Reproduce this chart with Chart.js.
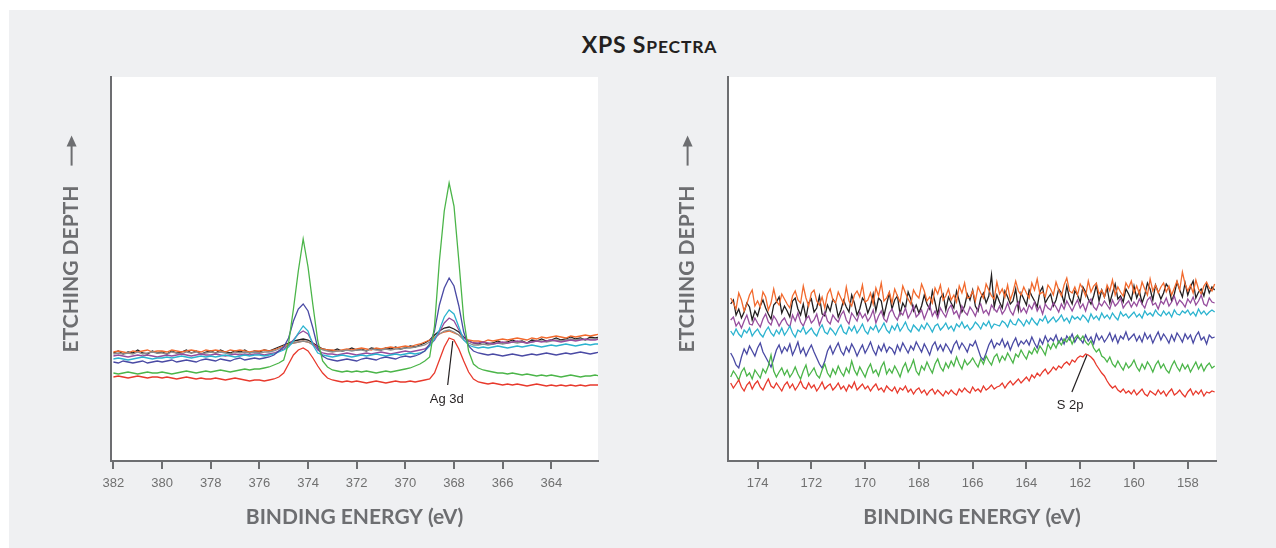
<!DOCTYPE html>
<html>
<head>
<meta charset="utf-8">
<title>XPS Spectra</title>
<script src="https://cdn.jsdelivr.net/npm/chart.js@4.4.0/dist/chart.umd.min.js"></script>
<style>
  body { margin: 0; background: #fff; width: 1276px; height: 548px; overflow: hidden; position: relative; }
  #panel { position: absolute; left: 9px; top: 10px; right: 0; bottom: 0; background: #eff0f2; }
  #title { position: absolute; left: 0; top: 30px; width: 1299px; text-align: center; letter-spacing: 0.8px;
           font-family: Lato, "Open Sans", sans-serif; font-weight: bold; font-size: 23px; color: #231f20; }
  #title .sc { font-size: 17.5px; }
  .box { position: absolute; top: 0; width: 638px; height: 548px; }
</style>
</head>
<body>
<div id="panel"></div>
<div id="title">XPS S<span class="sc">PECTRA</span></div>
<div class="box" style="left:0"><canvas id="agChart" width="638" height="548"></canvas></div>
<div class="box" style="left:638px"><canvas id="sChart" width="638" height="548"></canvas></div>
<script>
// Ag 3d region, binding energy (eV)
var agEnergy = [382,381.8,381.6,381.4,381.2,381,380.8,380.6,380.4,380.2,
  380,379.8,379.6,379.4,379.2,379,378.8,378.6,378.4,378.2,
  378,377.8,377.6,377.4,377.2,377,376.8,376.6,376.4,376.2,
  376,375.8,375.6,375.4,375.2,375,374.8,374.6,374.4,374.2,
  374,373.8,373.6,373.4,373.2,373,372.8,372.6,372.4,372.2,
  372,371.8,371.6,371.4,371.2,371,370.8,370.6,370.4,370.2,
  370,369.8,369.6,369.4,369.2,369,368.8,368.6,368.4,368.2,
  368,367.8,367.6,367.4,367.2,367,366.8,366.6,366.4,366.2,
  366,365.8,365.6,365.4,365.2,365,364.8,364.6,364.4,364.2,
  364,363.8,363.6,363.4,363.2,363,362.8,362.6,362.4,362.2,362];

var agRed = [84,85,84,83,84,85,84,83,84,84, 83,84,83,82,83,84,83,82,83,82, 82,83,82,81,82,83,82,81,80,81,
  81,80,81,82,84, 88,97,106,111,113,110,103,95,88,83,81,
  80,79,80,79,80,79,78,79,80,79,78,79,80,79,79,80,79,80,81,
  82,88,101,114,123,121,112,100,89,82,79,
  78,77,78,77,76,77,76,77,76,75,76,77,76,75,76,75,76,75,76,75,76,75,76,76,76];
var agGreen = [88,87,88,89,88,87,88,89,88,88, 89,88,87,88,89,90,89,88,89,90, 89,90,91,90,89,90,91,92,91,92,
  92,93,94,96,98, 101,118,152,190,222,194,156,120,100,94,91,
  90,89,90,89,90,89,90,89,88,89,90,89,90, 91,92,93,95,97,100,
  104,135,200,250,278,255,200,142,110,97,93,
  91,90,89,88,88,87,88,87,86,87,86,85,86,85,86,85,84,85,86,85,84,85,85,86,85];
var agBlue = [99,98,100,99,98,99,100,98,99,100, 99,100,101,99,100,101,100,99,101,102, 101,100,102,101,100,102,103,101,102,103,
  102,103,104,106,110, 114,123,140,152,157,150,133,113,105,102,
  101,100,101,102,101,100,102,103,102,101,103,104,103,102,104,105,104,105,107,
  110,117,130,156,173,183,175,155,129,115,110,
  108,107,106,107,106,105,106,107,106,105,106,107,106,107,108,107,106,107,108,107,108,109,108,107,108,109];
var agCyan = [102,103,102,101,102,103,104,103,102,103, 103,104,103,104,105,104,103,104,105,104, 105,104,105,106,105,104,105,106,105,106,
  106,105,106,107,109, 111,114,120,128,135,130,116,108,106,105,
  104,105,106,105,104,105,106,105,106,107,106,105,106,107,106,107,108,107,108,
  110,115,122,131,144,151,147,134,121,116,114,
  113,114,113,114,115,114,113,114,115,114,115,116,115,114,115,116,115,116,117,116,115,116,117,116,117,117];
var agPurple = [105,106,105,104,105,106,105,106,105,104, 105,106,105,106,107,106,105,106,107,106, 106,107,106,105,106,107,106,107,106,107,
  107,106,107,108,110, 112,116,121,127,130,127,118,111,108,107,
  107,106,107,108,107,106,107,108,107,108,109,108,107,108,109,110,109,110,111,
  112,116,121,129,138,143,140,131,123,120,118,
  118,119,118,117,118,119,118,119,120,119,118,119,120,119,120,121,120,119,120,121,120,121,122,121,121,122];
var agGray = [107,108,107,108,107,109,107,108,109,108, 108,107,109,108,107,109,108,109,107,108, 109,108,109,108,107,109,108,109,108,109,
  108,109,109,110,112, 114,116,118,119,120,119,116,113,111,110,
  109,110,110,111,110,111,111,110,112,111,111,112,111,112,112,113,113,114,115,
  116,119,123,127,130,131,129,126,121,118,116,
  116,117,116,117,118,117,118,119,118,119,118,119,120,120,119,120,121,120,121,122,121,122,121,122,122,123];
var agOrange = [109,110,109,108,110,109,110,111,109,110, 110,109,111,110,109,110,111,110,109,111, 110,111,110,109,111,110,111,110,109,110,
  110,111,110,111,113, 115,117,118,119,120,119,117,114,112,111,
  111,110,111,112,111,112,113,112,111,113,112,113,114,113,114,115,114,116,117,
  119,121,124,127,129,130,128,126,123,121,120,
  120,119,121,120,121,122,121,122,123,122,121,123,122,124,123,124,125,124,123,125,124,125,126,125,126,127];
var agBlack = [108,110,107,109,108,111,108,107,110,108, 109,107,110,108,109,111,108,110,107,109, 110,108,111,109,108,110,109,111,108,110,
  109,111,110,112,114, 116,118,120,121,122,121,118,115,112,111,
  110,112,110,111,113,111,112,110,113,112,111,113,112,114,112,113,115,114,116,
  118,121,126,130,133,134,132,129,124,120,118,
  117,119,117,118,120,118,119,121,119,120,118,121,120,122,120,121,123,121,122,124,122,123,121,124,123,124];

// S 2p region, binding energy (eV)
var sEnergy = [175,174.9,174.8,174.7,174.6,174.5,174.4,174.3,174.2,174.1,
  174,173.9,173.8,173.7,173.6,173.5,173.4,173.3,173.2,173.1,
  173,172.9,172.8,172.7,172.6,172.5,172.4,172.3,172.2,172.1,
  172,171.9,171.8,171.7,171.6,171.5,171.4,171.3,171.2,171.1,
  171,170.9,170.8,170.7,170.6,170.5,170.4,170.3,170.2,170.1,
  170,169.9,169.8,169.7,169.6,169.5,169.4,169.3,169.2,169.1,
  169,168.9,168.8,168.7,168.6,168.5,168.4,168.3,168.2,168.1,
  168,167.9,167.8,167.7,167.6,167.5,167.4,167.3,167.2,167.1,
  167,166.9,166.8,166.7,166.6,166.5,166.4,166.3,166.2,166.1,
  166,165.9,165.8,165.7,165.6,165.5,165.4,165.3,165.2,165.1,
  165,164.9,164.8,164.7,164.6,164.5,164.4,164.3,164.2,164.1,
  164,163.9,163.8,163.7,163.6,163.5,163.4,163.3,163.2,163.1,
  163,162.9,162.8,162.7,162.6,162.5,162.4,162.3,162.2,162.1,
  162,161.9,161.8,161.7,161.6,161.5,161.4,161.3,161.2,161.1,
  161,160.9,160.8,160.7,160.6,160.5,160.4,160.3,160.2,160.1,
  160,159.9,159.8,159.7,159.6,159.5,159.4,159.3,159.2,159.1,
  159,158.9,158.8,158.7,158.6,158.5,158.4,158.3,158.2,158.1,
  158,157.9,157.8,157.7,157.6,157.5,157.4,157.3,157.2,157.1,157];

var sRed = [78,73,77,81,74,70,76,79,72,77, 80,74,71,77,82,75,73,78,74,70, 76,79,73,77,71,75,80,74,72,78,
  73,76,70,74,79,72,75,77,71,74, 78,72,75,70,76,73,79,71,74,77, 72,75,70,74,77,71,73,69,75,72,
  70,74,68,73,71,75,69,72,67,71, 73,68,71,66,70,72,67,71,68,65, 70,67,71,68,66,72,69,73,70,68,
  74,70,72,69,75,71,73,76,72,74, 75,78,73,77,80,76,79,82,78,81, 84,80,86,83,88,85,89,92,87,90,
  94,91,95,93,97,99,96,101,99,103, 105,104,107,106,104,101,96,92,88,85, 80,76,73,75,71,69,72,68,70,67,
  71,66,69,72,67,65,70,68,66,71, 67,70,65,69,72,66,68,71,67,64, 69,72,66,70,67,71,65,69,68,70, 69];
var sGreen = [84,90,86,81,89,93,85,88,82,91, 87,83,92,88,95,106,90,84,89,93, 86,91,84,88,94,87,82,90,96,85,
  89,93,86,83,91,97,88,84,92,87, 95,89,85,93,88,100,91,86,94,89, 84,92,97,88,91,85,94,99,87,92,
  88,95,90,84,93,98,89,94,101,90, 86,95,91,99,93,88,97,102,94,90, 98,93,100,95,104,97,92,101,96,99,
  103,98,94,102,97,105,100,96,104,107, 99,105,101,108,103,98,107,104,111,106, 102,110,107,113,108,115,111,106,117,112,
  118,113,120,116,122,119,124,117,123,126, 121,125,119,116,120,113,109,112,105,103, 99,104,97,94,100,95,91,98,93,96,
  101,94,90,97,92,99,95,89,96,100, 93,97,91,88,95,100,94,90,97,92, 96,89,94,99,92,97,90,95,98,93, 95];
var sBlue = [108,103,96,93,104,112,107,115,110,105, 113,118,109,104,99,94,102,111,116,108, 114,110,117,106,112,119,108,113,105,111,
  116,109,103,97,93,100,110,115,107,113, 118,110,106,114,109,117,112,105,111,116, 108,113,119,111,106,115,110,117,109,114,
  112,107,116,110,118,113,108,115,111,119, 114,109,117,112,106,115,119,111,116,110, 117,113,108,116,120,112,118,114,109,117,
  115,120,112,104,101,108,116,121,113,118, 116,122,114,119,111,118,123,115,120,117, 121,116,124,118,113,122,117,125,119,123,
  120,126,118,123,117,125,121,127,119,124, 122,118,126,120,124,117,127,121,125,119, 123,128,120,126,118,125,122,129,121,124,
  127,120,125,119,128,122,126,118,124,129, 121,127,123,118,126,120,128,124,119,127, 122,126,118,125,129,121,124,117,126,123, 124];
var sCyan = [130,126,132,127,124,131,128,133,125,129, 132,127,124,130,134,128,125,131,127,133, 126,130,135,128,124,131,129,134,127,130,
  133,128,125,132,136,129,127,133,130,126, 132,136,129,127,134,130,135,128,132,137, 130,127,134,131,136,129,133,138,131,128,
  135,131,137,130,134,139,132,129,136,133, 130,136,132,138,134,129,135,137,131,134, 138,132,135,130,137,134,139,133,136,131,
  134,139,136,132,138,135,140,133,137,136, 135,140,138,134,141,137,136,142,139,135, 141,137,143,139,136,142,140,145,138,141,
  144,139,142,146,140,143,138,145,142,144, 141,146,143,139,147,142,145,141,148,143, 146,142,148,144,141,149,145,147,143,146,
  149,144,147,143,150,146,148,145,151,147, 145,150,146,149,144,151,147,146,150,148, 151,146,149,145,152,147,150,146,149,151, 149];
var sPurple = [141,144,135,139,133,140,146,137,136,143, 138,134,142,147,139,136,145,141,135,140, 143,137,134,146,140,148,139,135,142,145,
  138,141,147,136,143,149,140,137,146,142, 139,146,150,141,137,148,144,140,149,143, 147,140,144,151,138,145,150,142,139,148,
  152,145,141,149,146,153,143,148,155,144, 147,151,142,149,156,145,150,143,153,148, 144,152,156,147,150,143,155,149,146,154,
  150,145,153,157,148,151,146,156,152,149, 155,147,151,158,150,146,154,159,149,153, 148,156,152,159,150,155,147,157,153,151,
  158,154,149,157,152,160,155,150,156,161, 153,157,150,159,162,154,151,158,155,160, 156,152,161,155,158,163,153,157,160,154,
  159,155,162,157,153,161,164,156,158,152, 160,157,163,155,159,165,156,161,158,154, 162,158,164,156,160,166,157,155,163,159, 158];
var sOrange = [163,158,152,168,161,150,157,166,171,155, 160,154,169,164,151,158,172,160,156,167, 162,157,153,165,170,161,158,175,163,155,
  168,171,160,156,164,153,167,172,161,158, 169,163,157,174,160,155,166,170,164,176, 159,161,168,157,173,165,178,160,163,169,
  158,172,165,159,175,168,162,157,171,166, 163,177,170,160,164,158,173,167,176,161, 165,172,161,166,159,175,168,178,163,164,
  170,160,174,168,163,177,171,165,162,179, 167,172,164,176,161,169,180,170,166,174, 168,163,178,171,182,167,169,164,176,172,
  166,179,171,165,176,183,170,168,174,166, 177,172,165,180,169,175,178,167,171,164, 176,170,181,166,174,169,165,178,173,180,
  168,175,167,179,172,166,182,170,176,168, 174,178,169,175,166,173,180,171,189,177, 170,176,168,181,172,167,175,179,173,170, 177];
var sBlack = [157,161,146,152,143,149,158,154,141,150, 145,155,161,153,147,142,156,159,164,148, 155,150,144,160,163,152,146,157,143,158,
  162,149,153,165,147,145,156,150,162,158, 144,151,161,154,149,166,158,146,152,163, 159,148,155,167,150,163,160,145,157,168,
  152,161,165,147,158,153,169,162,150,156, 148,155,166,157,152,170,159,146,163,167, 151,164,158,153,170,160,149,155,167,161,
  171,155,150,163,168,158,165,186,154,166, 159,153,170,164,157,160,172,151,168,162, 156,171,165,160,154,169,174,158,163,167,
  155,161,172,168,158,175,163,157,170,166, 159,174,169,162,157,165,176,160,171,164, 173,158,168,177,162,165,159,172,167,161,
  175,163,170,158,166,178,172,161,176,169, 162,168,177,173,160,167,179,171,164,178, 166,174,180,163,169,172,165,177,168,174, 171];

var colors = {
  red: '#e8392c', green: '#4bb549', blue: '#4a4aa4', cyan: '#2bb3cf',
  purple: '#964d9d', gray: '#8c8c8c', orange: '#f26a2e', black: '#231f20'
};
var axisGray = '#6d6e71';
var titleFont = { family: 'Lato', weight: 'bold', size: 21, lineHeight: 1.2 };

var plotBackground = {
  id: 'plotBackground',
  beforeDraw: function(chart) {
    var a = chart.chartArea, ctx = chart.ctx;
    ctx.save();
    ctx.fillStyle = '#fff';
    ctx.fillRect(a.left, a.top, a.right - a.left, a.bottom - a.top);
    ctx.restore();
  }
};

// label with a leader line, placed in data units
var callout = {
  id: 'callout',
  afterDatasetsDraw: function(chart, args, opts) {
    var ctx = chart.ctx, x = chart.scales.x, y = chart.scales.y;
    ctx.save();
    ctx.strokeStyle = '#231f20';
    ctx.lineWidth = 1.2;
    ctx.beginPath();
    ctx.moveTo(x.getPixelForValue(opts.from[0]), y.getPixelForValue(opts.from[1]));
    ctx.lineTo(x.getPixelForValue(opts.to[0]), y.getPixelForValue(opts.to[1]));
    ctx.stroke();
    ctx.fillStyle = '#231f20';
    ctx.font = '13px "Liberation Sans", Arial, sans-serif';
    ctx.textAlign = 'center';
    ctx.textBaseline = 'middle';
    ctx.fillText(opts.text, x.getPixelForValue(opts.at[0]), y.getPixelForValue(opts.at[1]));
    ctx.restore();
  }
};

// arrow above the rotated y title
var depthArrow = {
  id: 'depthArrow',
  afterDraw: function(chart, args, opts) {
    var ctx = chart.ctx, ys = chart.scales.y, a = chart.chartArea;
    var title = ys.options.title;
    ctx.save();
    ctx.font = 'bold 21px Lato';
    var half = ctx.measureText(title.text).width / 2;
    var cx = ys.left + titleFont.size * titleFont.lineHeight / 2 + opts.pad;
    var tail = (a.top + a.bottom) / 2 - half - 20;
    var tip = tail - 30;
    ctx.strokeStyle = axisGray;
    ctx.fillStyle = axisGray;
    ctx.lineWidth = 2;
    ctx.beginPath();
    ctx.moveTo(cx, tail);
    ctx.lineTo(cx, tip + 8);
    ctx.stroke();
    ctx.beginPath();
    ctx.moveTo(cx, tip);
    ctx.lineTo(cx - 5, tip + 11);
    ctx.lineTo(cx + 5, tip + 11);
    ctx.closePath();
    ctx.fill();
    ctx.restore();
  }
};

function line(label, energy, values, color) {
  return {
    label: label,
    data: values.map(function(v, i) { return { x: energy[i], y: v }; }),
    borderColor: color,
    borderWidth: 1.3,
    pointRadius: 0,
    tension: 0,
    fill: false
  };
}

function spectrum(canvasId, datasets, range, yPad, yWidth, rightPad, note) {
  return new Chart(document.getElementById(canvasId).getContext('2d'), {
    type: 'line',
    data: { datasets: datasets },
    options: {
      responsive: false,
      animation: false,
      layout: { padding: { top: 77, right: rightPad, left: 0, bottom: 0 } },
      plugins: {
        legend: { display: false },
        tooltip: { enabled: false },
        callout: note,
        depthArrow: { pad: yPad }
      },
      scales: {
        x: {
          type: 'linear',
          reverse: true,
          min: range[0],
          max: range[1],
          afterFit: function(s) { s.height = 87; },
          border: { display: true, color: axisGray, width: 2 },
          grid: { drawOnChartArea: false, drawTicks: true, tickLength: 8, color: axisGray, lineWidth: 2 },
          ticks: {
            stepSize: 2, includeBounds: false, autoSkip: false, maxRotation: 0, padding: 7,
            color: '#707070', font: { family: '"Liberation Sans", Arial', size: 13 }
          },
          title: {
            display: true, text: 'BINDING ENERGY (eV)', color: axisGray,
            font: titleFont, padding: { top: 0, bottom: 18 }
          }
        },
        y: {
          min: 0,
          max: 384,
          afterFit: function(s) { s.width = yWidth; },
          border: { display: true, color: axisGray, width: 2 },
          grid: { drawOnChartArea: false, drawTicks: false },
          ticks: { display: false },
          title: {
            display: true, text: 'ETCHING DEPTH', color: axisGray,
            font: titleFont, padding: { top: yPad, bottom: 0 }
          }
        }
      }
    },
    plugins: [plotBackground, callout, depthArrow]
  });
}

spectrum('agChart', [
  line('Ag 3d, layer 1', agEnergy, agRed, colors.red),
  line('Ag 3d, layer 2', agEnergy, agGreen, colors.green),
  line('Ag 3d, layer 3', agEnergy, agBlue, colors.blue),
  line('Ag 3d, layer 4', agEnergy, agCyan, colors.cyan),
  line('Ag 3d, layer 5', agEnergy, agPurple, colors.purple),
  line('Ag 3d, layer 6', agEnergy, agGray, colors.gray),
  line('Ag 3d, layer 7', agEnergy, agOrange, colors.orange),
  line('Ag 3d, layer 8', agEnergy, agBlack, colors.black)
], [362.08, 382.1], 59, 111, 40,
  { text: 'Ag 3d', from: [368.05, 120], to: [368.26, 76], at: [368.3, 62] });

spectrum('sChart', [
  line('S 2p, layer 1', sEnergy, sRed, colors.red),
  line('S 2p, layer 2', sEnergy, sGreen, colors.green),
  line('S 2p, layer 3', sEnergy, sBlue, colors.blue),
  line('S 2p, layer 4', sEnergy, sCyan, colors.cyan),
  line('S 2p, layer 5', sEnergy, sPurple, colors.purple),
  line('S 2p, layer 6', sEnergy, sOrange, colors.orange),
  line('S 2p, layer 7', sEnergy, sBlack, colors.black)
], [156.95, 175.1], 37, 90, 60,
  { text: 'S 2p', from: [161.75, 106], to: [162.31, 69], at: [162.38, 56] });
</script>
</body>
</html>
